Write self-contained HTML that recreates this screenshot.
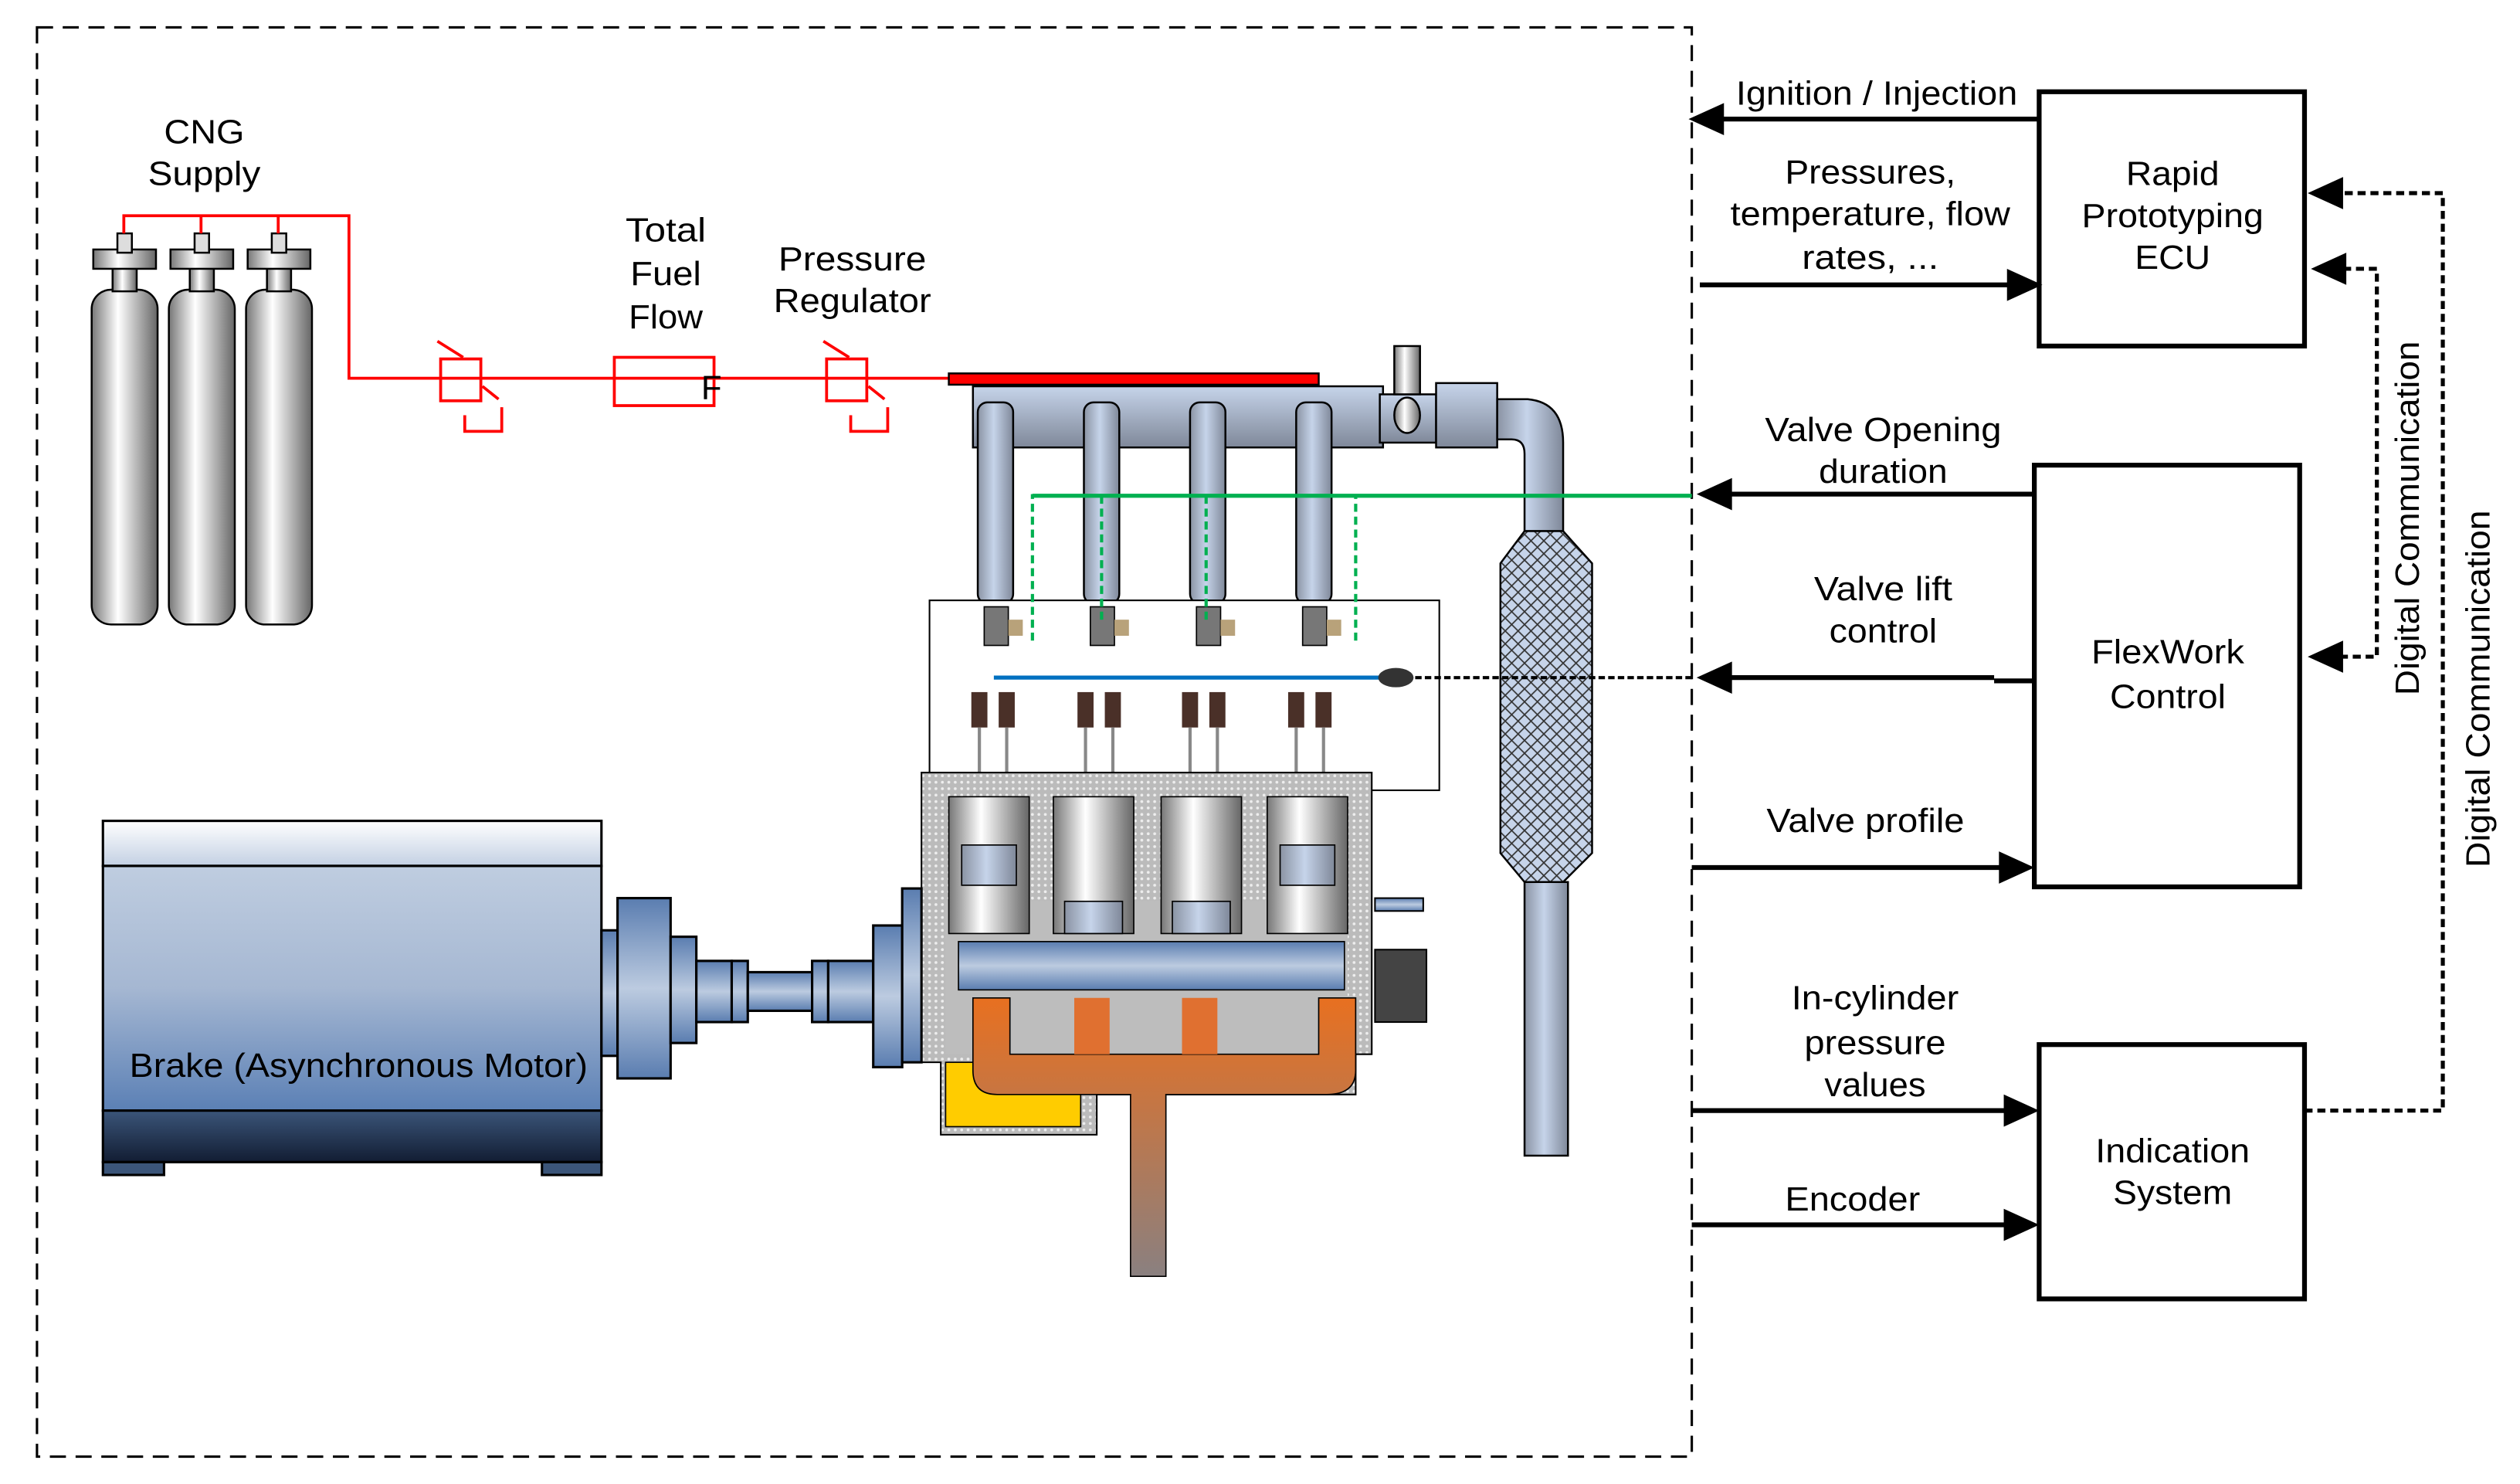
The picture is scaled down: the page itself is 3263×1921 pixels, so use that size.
<!DOCTYPE html>
<html><head><meta charset="utf-8"><style>html,body{margin:0;padding:0;background:#fff}svg{display:block}text{font-family:"Liberation Sans",Arial,sans-serif;font-size:21px;fill:#000}</style></head>
<body>
<svg width="3263" height="1921" viewBox="0 0 1567 922" preserveAspectRatio="none" xmlns="http://www.w3.org/2000/svg">
<defs>
<linearGradient id="cyl" x1="0" x2="1"><stop offset="0" stop-color="#777"/><stop offset="0.4" stop-color="#fff"/><stop offset="1" stop-color="#666"/></linearGradient>
<linearGradient id="pipe" x1="0" x2="1"><stop offset="0" stop-color="#8a93a3"/><stop offset="0.45" stop-color="#c6d4ea"/><stop offset="1" stop-color="#7f8899"/></linearGradient>
<linearGradient id="rail" x1="0" y1="0" x2="0" y2="1"><stop offset="0" stop-color="#c6d4ea"/><stop offset="1" stop-color="#7f8899"/></linearGradient>
<linearGradient id="motor" x1="0" y1="0" x2="0" y2="1"><stop offset="0" stop-color="#bfcde0"/><stop offset="0.5" stop-color="#a5b7d2"/><stop offset="1" stop-color="#5b80b5"/></linearGradient>
<linearGradient id="mtop" x1="0" y1="0" x2="0" y2="1"><stop offset="0" stop-color="#fff"/><stop offset="1" stop-color="#c3d0e3"/></linearGradient>
<linearGradient id="mbot" x1="0" y1="0" x2="0" y2="1"><stop offset="0" stop-color="#3b5579"/><stop offset="1" stop-color="#121d33"/></linearGradient>
<linearGradient id="flg" x1="0" y1="0" x2="0" y2="1"><stop offset="0" stop-color="#5a7db0"/><stop offset="0.5" stop-color="#bccbe0"/><stop offset="1" stop-color="#5a7db0"/></linearGradient>
<linearGradient id="exh" x1="0" y1="0" x2="0" y2="1"><stop offset="0" stop-color="#e87020"/><stop offset="1" stop-color="#8a8080"/></linearGradient>
<pattern id="hatch" width="8" height="8" patternUnits="userSpaceOnUse"><rect width="8" height="8" fill="#c6d4ea"/><path d="M0 0L8 8M8 0L0 8" stroke="#333" stroke-width="0.8"/></pattern>
<pattern id="dots" width="4" height="4" patternUnits="userSpaceOnUse"><rect width="4" height="4" fill="#bbb"/><circle cx="2" cy="2" r="0.9" fill="#eee"/></pattern>
</defs>

<path d="M23 17H1052V905H23Z" fill="none" stroke="#000" stroke-width="1.5" stroke-dasharray="10 6"/>

<text x="127" y="89" text-anchor="middle" textLength="50" lengthAdjust="spacingAndGlyphs">CNG</text>
<text x="127" y="115" text-anchor="middle" textLength="70" lengthAdjust="spacingAndGlyphs">Supply</text>
<g stroke="#000" stroke-width="1.2">
<g id="tank"><rect x="57" y="180" width="41" height="208" rx="12" fill="url(#cyl)"/><rect x="70" y="163" width="15" height="18" fill="url(#cyl)"/><rect x="58" y="155" width="39" height="12" fill="url(#cyl)"/><rect x="73" y="145" width="9" height="12" fill="#ddd"/></g>
<use href="#tank" x="48"/><use href="#tank" x="96"/>
</g>
<g stroke="#f00" stroke-width="1.8" fill="none">
<path d="M77 145V134H217V235H590"/><path d="M125 145V134M173 145V134"/>
<rect x="274" y="223" width="25" height="26"/><rect x="382" y="222" width="62" height="30"/><rect x="514" y="223" width="25" height="26"/>
<path d="M289 258V268H312V253M529 258V268H552V253M300 240L310 248M540 240L550 248M272 212L288 222M512 212L528 222"/>
</g>
<text x="436" y="248" font-size="7" fill="#f00">F</text>
<text x="414" y="150" text-anchor="middle" textLength="50" lengthAdjust="spacingAndGlyphs">Total</text>
<text x="414" y="177" text-anchor="middle" textLength="44" lengthAdjust="spacingAndGlyphs">Fuel</text>
<text x="414" y="204" text-anchor="middle" textLength="46" lengthAdjust="spacingAndGlyphs">Flow</text>
<text x="530" y="168" text-anchor="middle" textLength="92" lengthAdjust="spacingAndGlyphs">Pressure</text>
<text x="530" y="194" text-anchor="middle" textLength="98" lengthAdjust="spacingAndGlyphs">Regulator</text>

<g stroke="#000" stroke-width="1.2">
<rect x="605" y="240" width="255" height="38" fill="url(#rail)"/>
<rect x="590" y="232" width="230" height="7" fill="#f00"/>
<rect x="608" y="250" width="22" height="125" rx="6" fill="url(#pipe)"/><rect x="674" y="250" width="22" height="125" rx="6" fill="url(#pipe)"/><rect x="740" y="250" width="22" height="125" rx="6" fill="url(#pipe)"/><rect x="806" y="250" width="22" height="125" rx="6" fill="url(#pipe)"/>
<rect x="858" y="245" width="35" height="30" fill="url(#rail)"/><rect x="867" y="215" width="16" height="30" fill="url(#cyl)"/><ellipse cx="875" cy="258" rx="8" ry="11" fill="url(#cyl)"/>
<rect x="893" y="238" width="38" height="40" fill="url(#rail)"/>
<path d="M931 248H950Q972 250 972 275V330H948V282Q948 273 940 273H931Z" fill="url(#pipe)"/>
<path d="M948 330H972L990 350V530L972 548H948L933 530V350Z" fill="url(#hatch)"/>
<rect x="948" y="548" width="27" height="170" fill="url(#pipe)"/>
</g>
<rect x="578" y="373" width="317" height="118" fill="#fff" stroke="#000" stroke-width="1"/>
<g fill="#777" stroke="#000" stroke-width="0.8">
<rect x="612" y="377" width="15" height="24"/><rect x="678" y="377" width="15" height="24"/><rect x="744" y="377" width="15" height="24"/><rect x="810" y="377" width="15" height="24"/>
</g>
<g fill="#b8a27a"><rect x="627" y="385" width="9" height="10"/><rect x="693" y="385" width="9" height="10"/><rect x="759" y="385" width="9" height="10"/><rect x="825" y="385" width="9" height="10"/></g>
<path d="M642 398V308H843V398M685 308V385M750 308V385" fill="none" stroke="#00b050" stroke-width="2" stroke-dasharray="5 3"/>
<path d="M642 308H1052" stroke="#00b050" stroke-width="2.5"/>
<path d="M618 421H860" stroke="#0070c0" stroke-width="2.5"/>
<ellipse cx="868" cy="421" rx="11" ry="6" fill="#333"/>
<path d="M880 421H1052" stroke="#000" stroke-width="2" stroke-dasharray="4 2"/>
<g fill="#4a3028">
<rect x="604" y="430" width="10" height="22"/><rect x="621" y="430" width="10" height="22"/><rect x="670" y="430" width="10" height="22"/><rect x="687" y="430" width="10" height="22"/><rect x="735" y="430" width="10" height="22"/><rect x="752" y="430" width="10" height="22"/><rect x="801" y="430" width="10" height="22"/><rect x="818" y="430" width="10" height="22"/>
</g>
<g stroke="#888" stroke-width="2"><path d="M609 452V490M626 452V490M675 452V490M692 452V490M740 452V490M757 452V490M806 452V490M823 452V490"/></g>

<path d="M573 480H853V655H843V680H682V705H585V660H573Z" fill="url(#dots)" stroke="#000" stroke-width="1"/>
<rect x="588" y="560" width="250" height="95" fill="#bdbdbd"/>
<g stroke="#000" stroke-width="0.8">
<rect x="590" y="495" width="50" height="85" fill="url(#cyl)"/><rect x="655" y="495" width="50" height="85" fill="url(#cyl)"/><rect x="722" y="495" width="50" height="85" fill="url(#cyl)"/><rect x="788" y="495" width="50" height="85" fill="url(#cyl)"/>
<rect x="598" y="525" width="34" height="25" fill="url(#pipe)"/><rect x="662" y="560" width="36" height="20" fill="url(#pipe)"/><rect x="729" y="560" width="36" height="20" fill="url(#pipe)"/><rect x="796" y="525" width="34" height="25" fill="url(#pipe)"/>
<rect x="596" y="585" width="240" height="30" fill="url(#flg)"/>
</g>
<rect x="588" y="660" width="84" height="40" fill="#ffcc00" stroke="#000" stroke-width="0.8"/>
<path d="M605 620H628V655H820V620H843V665Q843 680 825 680H725V793H703V680H620Q605 680 605 665Z" fill="url(#exh)" stroke="#000" stroke-width="0.8"/>
<path d="M668 620H690V655H668ZM735 620H757V655H735Z" fill="#e07030"/>
<g stroke="#000" stroke-width="1">
<rect x="855" y="558" width="30" height="8" fill="url(#flg)"/>
<rect x="855" y="590" width="32" height="45" fill="#444"/>
</g>

<g stroke="#000" stroke-width="1.5">
<rect x="64" y="510" width="310" height="28" fill="url(#mtop)"/>
<rect x="64" y="538" width="310" height="152" fill="url(#motor)"/>
<rect x="64" y="690" width="310" height="32" fill="url(#mbot)"/>
<rect x="64" y="722" width="38" height="8" fill="#3b5579"/><rect x="337" y="722" width="37" height="8" fill="#3b5579"/>
<rect x="374" y="578" width="10" height="78" fill="url(#flg)"/>
<rect x="384" y="558" width="33" height="112" fill="url(#flg)"/>
<rect x="417" y="582" width="16" height="66" fill="url(#flg)"/>
<rect x="433" y="597" width="22" height="38" fill="url(#flg)"/>
<rect x="455" y="597" width="10" height="38" fill="url(#flg)"/>
<rect x="465" y="604" width="40" height="24" fill="url(#flg)"/>
<rect x="505" y="597" width="10" height="38" fill="url(#flg)"/>
<rect x="515" y="597" width="28" height="38" fill="url(#flg)"/>
<rect x="543" y="575" width="18" height="88" fill="url(#flg)"/>
<rect x="561" y="552" width="12" height="108" fill="url(#flg)"/>
</g>
<text x="223" y="669" text-anchor="middle" textLength="285" lengthAdjust="spacingAndGlyphs">Brake (Asynchronous Motor)</text>

<g fill="none" stroke="#000" stroke-width="3">
<rect x="1268" y="57" width="165" height="158"/>
<rect x="1265" y="289" width="165" height="262"/>
<rect x="1268" y="649" width="165" height="158"/>
</g>
<g stroke="#000" stroke-width="3">
<path d="M1268 74H1070M1057 177H1250M1265 307H1075M1265 423H1240M1240 421H1075M1052 539H1245M1052 690H1250M1052 761H1250"/>
</g>
<g fill="#000">
<path d="M1050 74L1072 64V84Z"/><path d="M1270 177L1248 167V187Z"/><path d="M1055 307L1077 297V317Z"/><path d="M1055 421L1077 411V431Z"/><path d="M1265 539L1243 529V549Z"/><path d="M1268 690L1246 680V700Z"/><path d="M1268 761L1246 751V771Z"/>
<path d="M1435 120L1457 110V130Z"/><path d="M1437 167L1459 157V177Z"/><path d="M1435 408L1457 398V418Z"/>
</g>
<g fill="none" stroke="#000" stroke-width="2.5" stroke-dasharray="5 3">
<path d="M1433 690H1519V120H1455"/>
<path d="M1455 408H1478V167H1457"/>
</g>

<text x="1167" y="65" text-anchor="middle" textLength="175" lengthAdjust="spacingAndGlyphs">Ignition / Injection</text>
<text x="1163" y="114" text-anchor="middle" textLength="106" lengthAdjust="spacingAndGlyphs">Pressures,</text>
<text x="1163" y="140" text-anchor="middle" textLength="174" lengthAdjust="spacingAndGlyphs">temperature, flow</text>
<text x="1163" y="167" text-anchor="middle" textLength="85" lengthAdjust="spacingAndGlyphs">rates, ...</text>
<text x="1351" y="115" text-anchor="middle" textLength="58" lengthAdjust="spacingAndGlyphs">Rapid</text>
<text x="1351" y="141" text-anchor="middle" textLength="113" lengthAdjust="spacingAndGlyphs">Prototyping</text>
<text x="1351" y="167" text-anchor="middle" textLength="47" lengthAdjust="spacingAndGlyphs">ECU</text>
<text x="1171" y="274" text-anchor="middle" textLength="147" lengthAdjust="spacingAndGlyphs">Valve Opening</text>
<text x="1171" y="300" text-anchor="middle" textLength="80" lengthAdjust="spacingAndGlyphs">duration</text>
<text x="1171" y="373" text-anchor="middle" textLength="86" lengthAdjust="spacingAndGlyphs">Valve lift</text>
<text x="1171" y="399" text-anchor="middle" textLength="67" lengthAdjust="spacingAndGlyphs">control</text>
<text x="1348" y="412" text-anchor="middle" textLength="95" lengthAdjust="spacingAndGlyphs">FlexWork</text>
<text x="1348" y="440" text-anchor="middle" textLength="72" lengthAdjust="spacingAndGlyphs">Control</text>
<text x="1160" y="517" text-anchor="middle" textLength="123" lengthAdjust="spacingAndGlyphs">Valve profile</text>
<text x="1166" y="627" text-anchor="middle" textLength="104" lengthAdjust="spacingAndGlyphs">In-cylinder</text>
<text x="1166" y="655" text-anchor="middle" textLength="88" lengthAdjust="spacingAndGlyphs">pressure</text>
<text x="1166" y="681" text-anchor="middle" textLength="63" lengthAdjust="spacingAndGlyphs">values</text>
<text x="1152" y="752" text-anchor="middle" textLength="84" lengthAdjust="spacingAndGlyphs">Encoder</text>
<text x="1351" y="722" text-anchor="middle" textLength="96" lengthAdjust="spacingAndGlyphs">Indication</text>
<text x="1351" y="748" text-anchor="middle" textLength="74" lengthAdjust="spacingAndGlyphs">System</text>
<text transform="translate(1504 322) rotate(-90)" text-anchor="middle" textLength="220" lengthAdjust="spacingAndGlyphs">Digital Communication</text>
<text transform="translate(1548 428) rotate(-90)" text-anchor="middle" textLength="222" lengthAdjust="spacingAndGlyphs">Digital Communication</text>
</svg>
</body></html>
